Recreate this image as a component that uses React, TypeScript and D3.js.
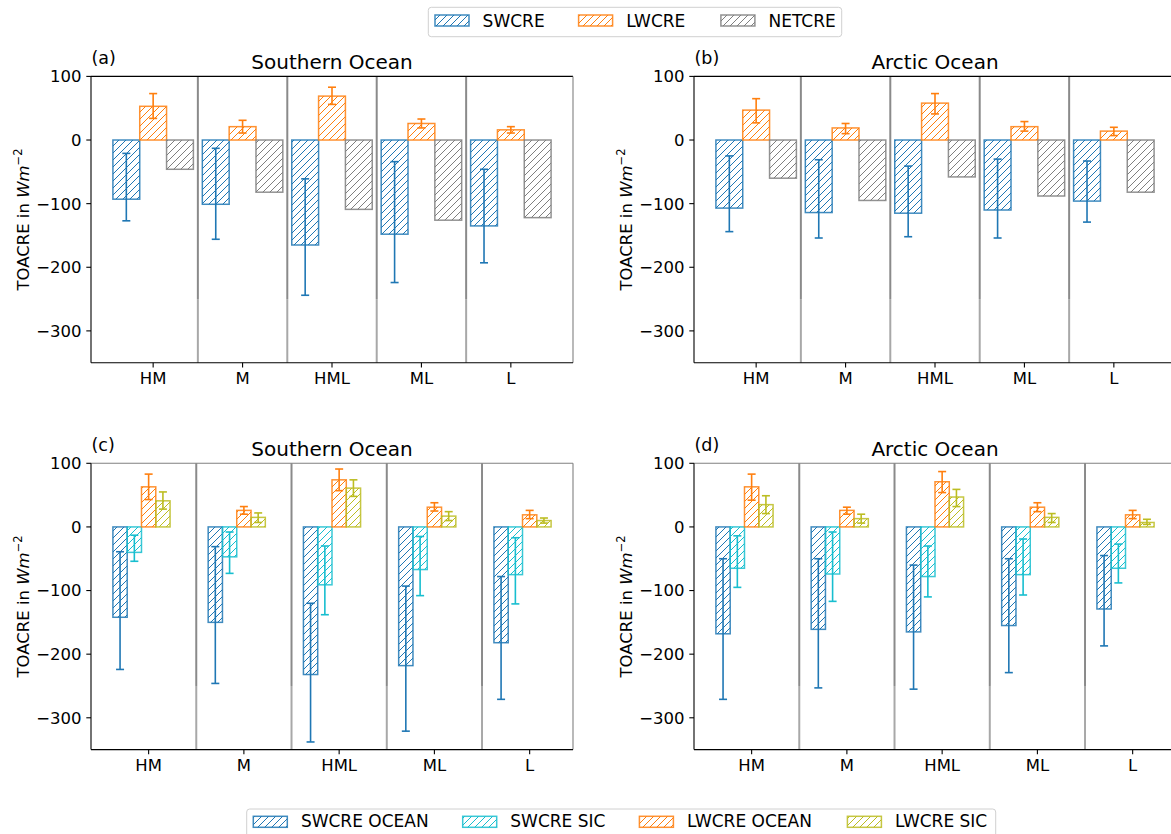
import React from "react";
import * as d3 from "d3";

// ---------- data ----------
const categories = ["HM", "M", "HML", "ML", "L"];
const yTicks = [100, 0, -100, -200, -300];

// (a) Southern Ocean
const swcreSO = [-93, -101, -165, -148, -135];
const swcreSOLow = [-127, -156, -244, -224, -193];
const swcreSOHigh = [-21, -13, -61, -34, -46];
const lwcreSO = [53, 21, 69, 26, 16];
const lwcreSOLow = [34, 11, 56, 19, 11];
const lwcreSOHigh = [73, 31, 83, 33, 21];
const netcreSO = [-46, -82, -109, -126, -122];

// (b) Arctic Ocean
const swcreAO = [-107, -114, -115, -110, -96];
const swcreAOLow = [-144, -154, -152, -154, -129];
const swcreAOHigh = [-25, -31, -41, -30, -33];
const lwcreAO = [47, 19, 58, 21, 14];
const lwcreAOLow = [27, 10, 41, 14, 7];
const lwcreAOHigh = [65, 26, 73, 29, 20];
const netcreAO = [-60, -95, -58, -88, -82];

// (c) Southern Ocean split
const swOceanSO = [-142, -150, -232, -218, -182];
const swOceanSOLow = [-224, -246, -338, -321, -271];
const swOceanSOHigh = [-39, -31, -120, -93, -78];
const swSicSO = [-40, -47, -91, -67, -75];
const swSicSOLow = [-54, -73, -138, -108, -121];
const swSicSOHigh = [-13, -8, -30, -15, -17];
const lwOceanSO = [63, 26, 74, 31, 19];
const lwOceanSOLow = [43, 20, 57, 25, 13];
const lwOceanSOHigh = [83, 32, 91, 38, 26];
const lwSicSO = [41, 15, 61, 17, 10];
const lwSicSOLow = [28, 7, 48, 10, 6];
const lwSicSOHigh = [55, 22, 74, 24, 14];

// (d) Arctic Ocean split
const swOceanAO = [-168, -161, -165, -155, -129];
const swOceanAOLow = [-271, -253, -255, -229, -187];
const swOceanAOHigh = [-50, -50, -60, -50, -45];
const swSicAO = [-65, -74, -78, -75, -65];
const swSicAOLow = [-95, -117, -110, -107, -88];
const swSicAOHigh = [-14, -8, -30, -19, -27];
const lwOceanAO = [63, 26, 71, 31, 19];
const lwOceanAOLow = [42, 20, 54, 24, 13];
const lwOceanAOHigh = [83, 31, 87, 38, 26];
const lwSicAO = [35, 13, 47, 15, 7];
const lwSicAOLow = [21, 6, 32, 7, 4];
const lwSicAOHigh = [49, 20, 59, 21, 12];

const topLegend = ["SWCRE", "LWCRE", "NETCRE"];
const bottomLegend = ["SWCRE OCEAN", "SWCRE SIC", "LWCRE OCEAN", "LWCRE SIC"];

// ---------- style ----------
const COL = {
  sw: "#1f77b4",
  lw: "#ff7f0e",
  net: "#7f7f7f",
  swSic: "#17becf",
  lwSic: "#bcbd22",
};
const FONT = "'DejaVu Sans', sans-serif";
const AX_W = 482;
const AX_H = 286.3;

type Series = {
  key: keyof typeof COL;
  values: number[];
  low?: number[];
  high?: number[];
};

function HatchDefs() {
  return (
    <defs>
      {Object.entries(COL).map(([k, c]) => (
        <pattern
          key={k}
          id={`hatch-${k}`}
          patternUnits="userSpaceOnUse"
          width={7}
          height={7}
        >
          <path
            d="M0,7 L7,0 M-1,1 L1,-1 M6,8 L8,6"
            stroke={c}
            strokeWidth={1}
            fill="none"
          />
        </pattern>
      ))}
    </defs>
  );
}

function Panel(props: {
  left: number;
  top: number;
  label: string;
  title: string;
  series: Series[];
  offsets: number[];
  barWidth: number;
  xDomain: [number, number];
  bottomRow: boolean;
}) {
  const { left, top, label, title, series, offsets, barWidth, xDomain, bottomRow } = props;
  const x = d3.scaleLinear().domain(xDomain).range([left, left + AX_W]);
  const y = d3.scaleLinear().domain([-350, 100]).range([top + AX_H, top]);
  const bw = x(barWidth) - x(0);
  const spineTopColor = bottomRow ? "#808080" : "#000";
  const seps = categories.slice(0, -1).map((_, i) => i + 0.5);
  return (
    <g>
      {seps.map((s) => (
        <g key={s}>
          <line x1={x(s)} x2={x(s)} y1={y(100)} y2={y(-250)} stroke="#8a8a8a" strokeWidth={2} />
          <line x1={x(s)} x2={x(s)} y1={y(-250)} y2={y(-350)} stroke="#a8a8a8" strokeWidth={2} />
        </g>
      ))}
      {series.map((s, si) =>
        s.values.map((v, i) => {
          const cx = x(i + offsets[si]);
          const y0 = y(0);
          const yv = y(v);
          return (
            <rect
              key={`${si}-${i}`}
              x={cx - bw / 2}
              y={Math.min(y0, yv)}
              width={bw}
              height={Math.abs(yv - y0)}
              fill={`url(#hatch-${s.key})`}
              stroke={COL[s.key]}
              strokeOpacity={0.85}
              strokeWidth={1.5}
            />
          );
        })
      )}
      {series.map((s, si) =>
        s.low && s.high
          ? s.values.map((_, i) => {
              const cx = x(i + offsets[si]);
              const yl = y(s.low![i]);
              const yh = y(s.high![i]);
              const c = COL[s.key];
              return (
                <g key={`e${si}-${i}`} stroke={c} strokeWidth={1.6}>
                  <line x1={cx} x2={cx} y1={yl} y2={yh} />
                  <line x1={cx - 4} x2={cx + 4} y1={yl} y2={yl} />
                  <line x1={cx - 4} x2={cx + 4} y1={yh} y2={yh} />
                </g>
              );
            })
          : null
      )}
      <line x1={left} x2={left + AX_W} y1={top} y2={top} stroke={spineTopColor} strokeWidth={1.1} />
      <line x1={left + AX_W} x2={left + AX_W} y1={top} y2={top + AX_H} stroke="#808080" strokeWidth={1.1} />
      <line x1={left} x2={left} y1={top} y2={top + AX_H} stroke="#000" strokeWidth={1.1} />
      <line x1={left} x2={left + AX_W} y1={top + AX_H} y2={top + AX_H} stroke="#000" strokeWidth={1.1} />
      {yTicks.map((t) => (
        <g key={t}>
          <line x1={left - 4.7} x2={left} y1={y(t)} y2={y(t)} stroke="#000" strokeWidth={1.1} />
          <text
            x={left - 9.5}
            y={y(t)}
            dy="0.36em"
            textAnchor="end"
            fontSize={16.5}
            fontFamily={FONT}
            fill="#000"
          >
            {t < 0 ? `\u2212${Math.abs(t)}` : `${t}`}
          </text>
        </g>
      ))}
      {categories.map((c, i) => (
        <g key={c}>
          <line x1={x(i)} x2={x(i)} y1={top + AX_H} y2={top + AX_H + 4.7} stroke="#000" strokeWidth={1.1} />
          <text
            x={x(i)}
            y={top + AX_H + 21.6}
            textAnchor="middle"
            fontSize={16.5}
            fontFamily={FONT}
            fill="#000"
          >
            {c}
          </text>
        </g>
      ))}
      <text
        transform={`translate(${left - 62},${top + AX_H / 2}) rotate(-90)`}
        textAnchor="middle"
        fontSize={16.5}
        fontFamily={FONT}
        fill="#000"
      >
        TOACRE in <tspan fontStyle="italic">Wm</tspan>
        <tspan dy="-0.6em" fontSize={11.5}>{"\u22122"}</tspan>
      </text>
      <text
        x={left + AX_W / 2}
        y={top - 7}
        textAnchor="middle"
        fontSize={20}
        fontFamily={FONT}
        fill="#000"
      >
        {title}
      </text>
      <text x={left + 0.5} y={top - 12} fontSize={17.5} fontFamily={FONT} fill="#000">
        {label}
      </text>
    </g>
  );
}

function Legend(props: {
  box: [number, number, number, number];
  items: string[];
  keys: (keyof typeof COL)[];
  patchX: number[];
  textX: number[];
  patchY: number;
  baseline: number;
}) {
  const { box, items, keys, patchX, textX, patchY, baseline } = props;
  return (
    <g>
      <rect
        x={box[0]}
        y={box[1]}
        width={box[2]}
        height={box[3]}
        rx={3}
        fill="#fff"
        fillOpacity={0.8}
        stroke="#d0d0d0"
        strokeWidth={1}
      />
      {items.map((it, i) => (
        <g key={it}>
          <rect
            x={patchX[i]}
            y={patchY}
            width={34}
            height={11}
            fill={`url(#hatch-${keys[i]})`}
            stroke={COL[keys[i]]}
            strokeOpacity={0.85}
            strokeWidth={1.5}
          />
          <text x={textX[i]} y={baseline} fontSize={17} fontFamily={FONT} fill="#000">
            {it}
          </text>
        </g>
      ))}
    </g>
  );
}

export default function App() {
  const top3: number[] = [-0.3, 0, 0.3];
  const bot4: number[] = [-0.3, -0.15, 0, 0.15];
  const domTop: [number, number] = [-0.695, 4.695];
  const domBot: [number, number] = [-0.605, 4.455];
  return (
    <svg
      width={1171}
      height={834}
      viewBox="0 0 1171 834"
      style={{ position: "absolute", left: 0, top: 0, background: "#fff" }}
    >
      <HatchDefs />
      <rect x={0} y={0} width={1171} height={834} fill="#fff" />
      <Panel
        left={91}
        top={76.4}
        label="(a)"
        title="Southern Ocean"
        offsets={top3}
        barWidth={0.3}
        xDomain={domTop}
        bottomRow={false}
        series={[
          { key: "sw", values: swcreSO, low: swcreSOLow, high: swcreSOHigh },
          { key: "lw", values: lwcreSO, low: lwcreSOLow, high: lwcreSOHigh },
          { key: "net", values: netcreSO },
        ]}
      />
      <Panel
        left={694}
        top={76.4}
        label="(b)"
        title="Arctic Ocean"
        offsets={top3}
        barWidth={0.3}
        xDomain={domTop}
        bottomRow={false}
        series={[
          { key: "sw", values: swcreAO, low: swcreAOLow, high: swcreAOHigh },
          { key: "lw", values: lwcreAO, low: lwcreAOLow, high: lwcreAOHigh },
          { key: "net", values: netcreAO },
        ]}
      />
      <Panel
        left={91}
        top={463.3}
        label="(c)"
        title="Southern Ocean"
        offsets={bot4}
        barWidth={0.15}
        xDomain={domBot}
        bottomRow={true}
        series={[
          { key: "sw", values: swOceanSO, low: swOceanSOLow, high: swOceanSOHigh },
          { key: "swSic", values: swSicSO, low: swSicSOLow, high: swSicSOHigh },
          { key: "lw", values: lwOceanSO, low: lwOceanSOLow, high: lwOceanSOHigh },
          { key: "lwSic", values: lwSicSO, low: lwSicSOLow, high: lwSicSOHigh },
        ]}
      />
      <Panel
        left={694}
        top={463.3}
        label="(d)"
        title="Arctic Ocean"
        offsets={bot4}
        barWidth={0.15}
        xDomain={domBot}
        bottomRow={true}
        series={[
          { key: "sw", values: swOceanAO, low: swOceanAOLow, high: swOceanAOHigh },
          { key: "swSic", values: swSicAO, low: swSicAOLow, high: swSicAOHigh },
          { key: "lw", values: lwOceanAO, low: lwOceanAOLow, high: lwOceanAOHigh },
          { key: "lwSic", values: lwSicAO, low: lwSicAOLow, high: lwSicAOHigh },
        ]}
      />
      <Legend
        box={[428.3, 7.3, 413.4, 29.4]}
        items={topLegend}
        keys={["sw", "lw", "net"]}
        patchX={[435, 578.6, 720.9]}
        textX={[482.6, 626.2, 768.5]}
        patchY={15}
        baseline={26.9}
      />
      <Legend
        box={[246.7, 809, 749, 40]}
        items={bottomLegend}
        keys={["sw", "swSic", "lw", "lwSic"]}
        patchX={[253.3, 462.7, 639.4, 847.4]}
        textX={[300.9, 510.3, 687, 895]}
        patchY={816.3}
        baseline={827}
      />
    </svg>
  );
}
